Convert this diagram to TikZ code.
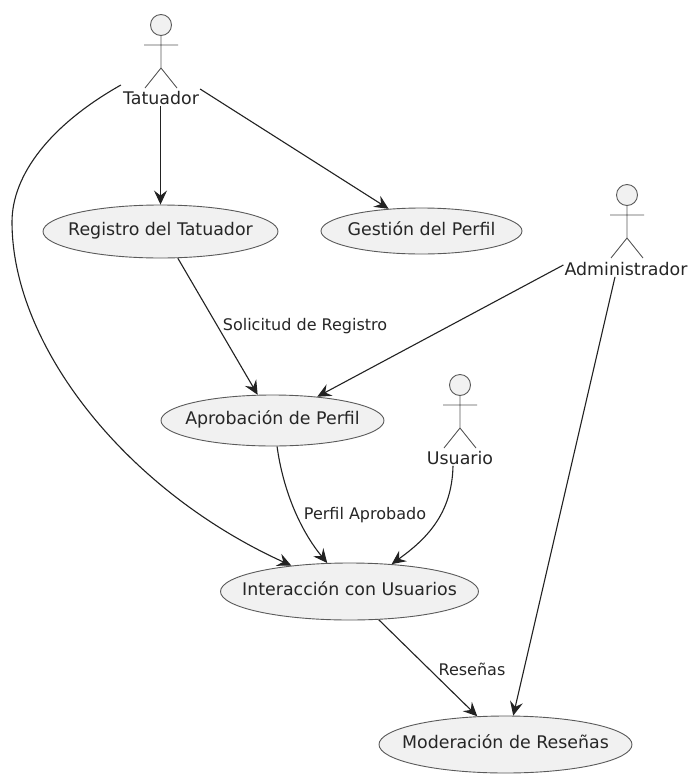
\documentclass[tikz,border=0pt]{standalone}
\usepackage{fontspec}
\setmainfont{DejaVu Sans}
\usepackage{xcolor}
\definecolor{casefill}{HTML}{F1F1F1}
\definecolor{caseline}{HTML}{5A5A5A}
\definecolor{linkline}{HTML}{222222}
\usetikzlibrary{calc,arrows.meta,shapes.geometric}
\tikzset{
  usecase/.style={ellipse, draw=caseline, fill=casefill, line width=0.9pt,
    inner xsep=-20pt, inner ysep=-6pt, text height=13pt, text depth=5pt,
    font=\fontsize{17.4}{20}\selectfont, text=black!85},
  actorname/.style={inner sep=1pt, font=\fontsize{17.4}{20}\selectfont, text=black!85},
  linklabel/.style={inner sep=1pt, font=\fontsize{16}{19}\selectfont, text=black!85},
  link/.style={draw=linkline, line width=1.1pt, -{Stealth[length=14pt,width=13pt,inset=5pt]}},
}
\newcommand{\stickman}[2]{%
  \draw[draw=caseline, fill=casefill, line width=0.9pt] (#1,#2-35) circle (10.5);
  \draw[draw=caseline, line width=0.9pt]
    (#1,#2-25) -- (#1,#2+8)
    (#1-17,#2-15) -- (#1+17,#2-15)
    (#1-16,#2+28) -- (#1,#2+8) -- (#1+16,#2+28);
}
\begin{document}
\begin{tikzpicture}[x=1pt,y=-1pt]
  \useasboundingbox[fill=white] (0,0) rectangle (688,774);
  % Actors
  \foreach \x/\y in {161/60,627/230,460/420} {
    \stickman{\x}{\y}
  }
  \node[actorname] (tatuador) at (161,98) {Tatuador};
  \node[actorname] (admin) at (626,269) {Administrador};
  \node[actorname] (usuario) at (460,458) {Usuario};

  % Use cases
  \node[usecase, minimum width=235, minimum height=53] (registro) at (160.5,231.5) {Registro del Tatuador};
  \node[usecase, minimum width=201, minimum height=46] (gestion) at (421.5,231) {Gestión del Perfil};
  \node[usecase, minimum width=223, minimum height=51] (aprobacion) at (272.5,420.5) {Aprobación de Perfil};
  \node[usecase, minimum width=258, minimum height=57] (interaccion) at (349.5,591.5) {Interacción con Usuarios};
  \node[usecase, minimum width=253, minimum height=57] (moderacion) at (505.5,744.5) {Moderación de Reseñas};

  % Links
  \coordinate (leftbend) at (12,222);
  \draw[link] (tatuador.south -| registro.north) -- (registro.north);
  \draw[link] (tatuador.east) ++(0,-9) -- (gestion.146);
  \draw[link] (tatuador.west) ++(-1,-13) .. controls (50,125) and (12,175) .. (leftbend)
    .. controls (12,345) and (125,490) .. (interaccion.156);
  \draw[link] (registro.-57) -- (aprobacion.120);
  \draw[link] (admin.west) ++(0,-4) -- (aprobacion.28);
  \draw[link] (admin.south) ++(-11,0) -- (moderacion.75);
  \draw[link] (aprobacion.-80) .. controls (283,490) and (300,530) .. (interaccion.128);
  \draw[link] (usuario.south) ++(-7,0) .. controls (452,515) and (425,540) .. (interaccion.33);
  \draw[link] (interaccion.-44) -- (moderacion.135);

  % Link labels
  \node[linklabel] (solicitud) at (305,326) {Solicitud de Registro};
  \node[linklabel] (aprobado) at (365,515) {Perfil Aprobado};
  \node[linklabel] (resenas) at (472,669) {Reseñas};
\end{tikzpicture}
\end{document}
